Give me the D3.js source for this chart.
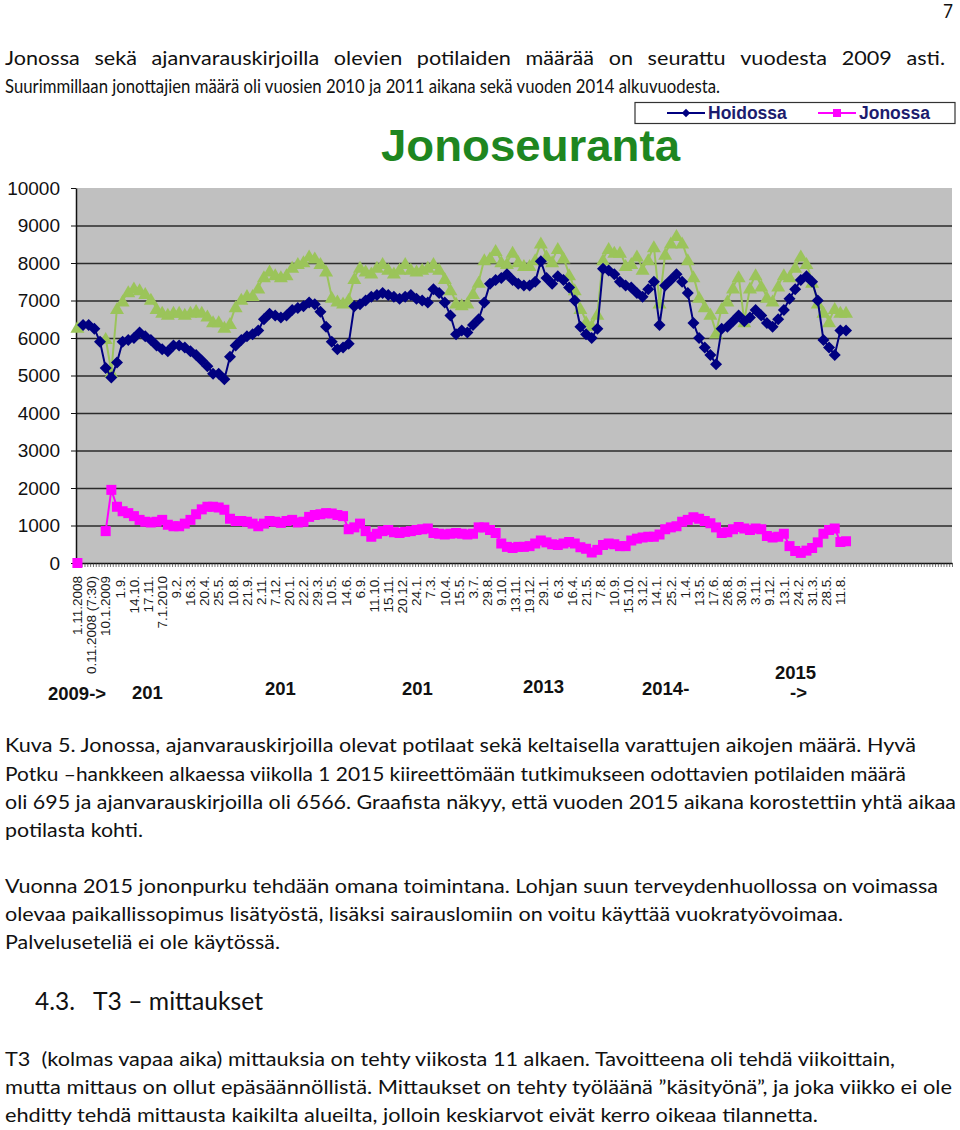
<!DOCTYPE html>
<html>
<head>
<meta charset="utf-8">
<script src="https://cdn.jsdelivr.net/npm/d3@7"></script>
<style>
  body { margin: 0; background: #fff; }
  svg { display: block; }
</style>
</head>
<body>
<svg id="page" width="960" height="1130"></svg>
<script>
// x tick labels, one for every fifth week on the category axis
const tickLabels = ['1.11.2008', '0.11.2008 (7:30)', '10.1.2009', '1.9.', '14.10.', '17.11.', '7.1.2010',
  '9.2.', '16.3.', '20.4.', '25.5.', '10.8.', '21.9.', '2.11.', '7.12.', '20.1.', '22.2.', '29.3.', '10.5.',
  '14.6.', '6.9.', '11.10.', '15.11.', '20.12.', '24.1.', '7.3.', '10.4.', '15.5.', '3.7.', '29.8.', '9.10.',
  '13.11.', '19.12.', '29.1.', '6.3.', '16.4.', '21.5.', '7.8.', '10.9.', '15.10.', '3.12.', '14.1.', '25.2.',
  '1.4.', '13.5.', '17.6.', '26.8.', '30.9.', '3.11.', '9.12.', '13.1.', '24.2.', '31.3.', '28.5.', '11.8.'];
const yTicks = [0, 1000, 2000, 3000, 4000, 5000, 6000, 7000, 8000, 9000, 10000];
const yearLabels = ['2009->', '201', '201', '201', '2013', '2014-', '2015', '->'];
const legendNames = ['Hoidossa', 'Jonossa'];
const chartTitle = 'Jonoseuranta';

// values read every second week (null = no value)
const hoidossa = [null, 6350, 6350, 6250, 5900, 5200, 4950, 5350, 5900, 5950,
  6000, 6150, 6050, 5950, 5800, 5700, 5650, 5800, 5800, 5750,
  5650, 5550, 5400, 5250, 5050, 5050, 4900, 5500, 5800, 5950,
  6050, 6100, 6200, 6500, 6650, 6600, 6550, 6600, 6750, 6800,
  6850, 6950, 6900, 6700, 6300, 5900, 5700, 5750, 5850, 6850,
  6900, 7000, 7100, 7150, 7200, 7150, 7100, 7050, 7100, 7150,
  7050, 7000, 6950, 7300, 7200, 6950, 6600, 6100, 6200, 6150,
  6350, 6500, 6950, 7450, 7550, 7600, 7700, 7550, 7450, 7400,
  7400, 7500, 8050, 7600, 7450, 7650, 7550, 7350, 7000, 6300,
  6100, 6000, 6250, 7850, 7800, 7700, 7500, 7400, 7350, 7200,
  7100, 7300, 7500, 6350, 7400, 7550, 7700, 7500, 7200, 6400,
  6000, 5750, 5550, 5300, 6250, 6300, 6450, 6600, 6450, 6550,
  6750, 6600, 6400, 6300, 6500, 6750, 7050, 7300, 7550, 7650,
  7500, 7000, 5950, 5750, 5550, 6200, 6200];

const varatut = [6300, null, null, null, null, 6000, 5100, 6800, 7000, 7250,
  7350, 7300, 7200, 7050, 6800, 6700, 6650, 6700, 6700, 6650,
  6700, 6750, 6700, 6600, 6450, 6450, 6300, 6400, 6850, 7050,
  7150, 7150, 7350, 7650, 7800, 7700, 7650, 7700, 7900, 8000,
  8050, 8200, 8150, 8000, 7800, 7100, 7000, 6950, 7050, 7600,
  7900, 7800, 7750, 7900, 8000, 7850, 7750, 7850, 8000, 7850,
  7800, 7850, 7900, 8000, 7850, 7600, 7300, 6950, 6900, 6950,
  7200, 7500, 8100, 8150, 8350, 8050, 8000, 8300, 8050, 7950,
  7950, 8100, 8550, 8200, 8050, 8400, 8150, 7700, 7300, 6800,
  6450, 6350, 6650, 8100, 8400, 8300, 8300, 7950, 8000, 8200,
  7850, 8100, 8450, 6950, 8250, 8550, 8750, 8550, 8100, 7650,
  7100, 6850, 6650, 6150, 6800, 7000, 7350, 7650, 6450, 7350,
  7700, 7400, 7100, 7000, 7400, 7700, 7650, 7900, 8200, 8000,
  7500, 6950, 6700, 6450, 6800, 6700, 6700];

const jonossa = [0, null, null, null, null, 850, 1950, 1500, 1380, 1330,
  1250, 1150, 1100, 1080, 1100, 1150, 1020, 980, 980, 1050,
  1150, 1300, 1430, 1500, 1500, 1480, 1420, 1180, 1120, 1120,
  1100, 1050, 980, 1050, 1120, 1100, 1070, 1120, 1150, 1080,
  1100, 1230, 1280, 1300, 1330, 1320, 1280, 1250, 900, 950,
  1050, 850, 700, 780, 850, 880, 820, 800, 830, 850,
  880, 900, 920, 800, 780, 760, 780, 800, 780, 760,
  780, 950, 950, 880, 800, 520, 430, 400, 430, 430,
  450, 520, 600, 550, 500, 480, 520, 560, 520, 420,
  380, 280, 350, 480, 520, 500, 450, 450, 600, 650,
  680, 700, 700, 760, 900, 950, 980, 1100, 1150, 1220,
  1180, 1120, 1060, 950, 800, 820, 900, 960, 920, 880,
  920, 900, 720, 680, 700, 780, 450, 320, 270, 330,
  400, 550, 780, 880, 920, 560, 580];

const CATEGORY_COUNT = 310;
const SAMPLE_STEP = 2;
const LABEL_STEP = 5;

const plot = {left: 76, right: 952, top: 188, bottom: 563};
const chartFont = 'Liberation Sans, Arial, sans-serif';
const bodyFont = 'Lato, Carlito, sans-serif';

const svg = d3.select('#page');

// ---------- page text ----------
const bodyLines = [
  {t: 'Jonossa sekä ajanvarauskirjoilla olevien potilaiden määrää on seurattu vuodesta 2009 asti.', x: 5, y: 65, w: 940, justify: true},
  {t: 'Suurimmillaan jonottajien määrä oli vuosien 2010 ja 2011 aikana sekä vuoden 2014 alkuvuodesta.', x: 5, y: 93, w: 715},
  {t: 'Kuva 5. Jonossa, ajanvarauskirjoilla olevat potilaat sekä keltaisella varattujen aikojen määrä. Hyvä', x: 5, y: 752, w: 911},
  {t: 'Potku –hankkeen alkaessa viikolla 1 2015 kiireettömään tutkimukseen odottavien potilaiden määrä', x: 5, y: 781, w: 901},
  {t: 'oli 695 ja ajanvarauskirjoilla oli 6566. Graafista näkyy, että vuoden 2015 aikana korostettiin yhtä aikaa', x: 5, y: 809, w: 951},
  {t: 'potilasta kohti.', x: 5, y: 837, w: 138},
  {t: 'Vuonna 2015 jononpurku tehdään omana toimintana. Lohjan suun terveydenhuollossa on voimassa', x: 5, y: 893, w: 933},
  {t: 'olevaa paikallissopimus lisätyöstä, lisäksi sairauslomiin on voitu käyttää vuokratyövoimaa.', x: 5, y: 921, w: 838},
  {t: 'Palveluseteliä ei ole käytössä.', x: 5, y: 949, w: 275},
  {t: 'T3  (kolmas vapaa aika) mittauksia on tehty viikosta 11 alkaen. Tavoitteena oli tehdä viikoittain,', x: 5, y: 1066, w: 890},
  {t: 'mutta mittaus on ollut epäsäännöllistä. Mittaukset on tehty työläänä ”käsityönä”, ja joka viikko ei ole', x: 5, y: 1094, w: 947},
  {t: 'ehditty tehdä mittausta kaikilta alueilta, jolloin keskiarvot eivät kerro oikeaa tilannetta.', x: 5, y: 1122, w: 813},
  {t: '4.3.', x: 35, y: 1010, w: 40, size: 25},
  {t: 'T3 – mittaukset', x: 93, y: 1010, w: 170, size: 25},
  {t: '7', x: 943, y: 18, w: 10, size: 19}
];

const textGroup = svg.append('g').attr('class', 'body-text');
const styleBody = sel => sel
  .attr('font-family', bodyFont)
  .attr('font-size', d => d.size || 19.5)
  .attr('fill', '#111')
  .style('white-space', 'pre');

const plainText = textGroup.selectAll('text.plain')
  .data(bodyLines.filter(d => !d.justify))
  .join('text').attr('class', 'plain')
  .attr('x', d => d.x)
  .attr('y', d => d.y)
  .call(styleBody)
  .text(d => d.t);

// natural widths first, then squeeze each line to its width on the page
plainText.each(function(d) { d.natural = this.getComputedTextLength(); });
const squeeze = bodyLines[2].w / bodyLines[2].natural;
plainText
  .attr('textLength', d => d.w)
  .attr('lengthAdjust', 'spacingAndGlyphs');

// justified lines: words spread evenly over the full width
bodyLines.filter(d => d.justify).forEach(line => {
  const words = line.t.split(' ').map(w => ({t: w, size: line.size}));
  const wt = textGroup.append('g').selectAll('text')
    .data(words)
    .join('text')
    .attr('y', line.y)
    .call(styleBody)
    .text(d => d.t);
  wt.each(function(d) { d.width = this.getComputedTextLength() * squeeze; });
  const gap = (line.w - d3.sum(words, d => d.width)) / (words.length - 1);
  let cursor = line.x;
  words.forEach(d => { d.x = cursor; cursor += d.width + gap; });
  wt.attr('x', d => d.x)
    .attr('textLength', d => d.width)
    .attr('lengthAdjust', 'spacingAndGlyphs');
});

// ---------- chart ----------
const x = d3.scaleLinear().domain([0, CATEGORY_COUNT]).range([plot.left, plot.right]);
const y = d3.scaleLinear().domain([0, 10000]).range([plot.bottom, plot.top]);
const cx = i => x(i + 0.5);

const chart = svg.append('g').attr('class', 'chart');

chart.append('rect')
  .attr('x', plot.left)
  .attr('y', plot.top)
  .attr('width', plot.right - plot.left)
  .attr('height', plot.bottom - plot.top)
  .attr('fill', '#c0c0c0');

// gridlines
const grid = chart.append('g')
  .attr('transform', `translate(${plot.left},0)`)
  .call(d3.axisLeft(y).tickValues(yTicks.filter(v => v > 0 && v < 10000))
    .tickSize(-(plot.right - plot.left)).tickFormat(''));
grid.select('.domain').remove();
grid.selectAll('line').attr('stroke', '#2b2b2b').attr('stroke-width', 1.6);

// y axis
const yAxis = chart.append('g')
  .attr('transform', `translate(${plot.left},0)`)
  .call(d3.axisLeft(y).tickValues(yTicks).tickFormat(d3.format('d'))
    .tickSize(5).tickSizeOuter(0).tickPadding(11));
yAxis.attr('font-family', chartFont).attr('font-size', 19);
yAxis.select('.domain').attr('stroke', '#111').attr('stroke-width', 1.5);
yAxis.selectAll('line').attr('stroke', '#111');
yAxis.selectAll('text').attr('fill', '#111');

// x axis: one tick per category boundary
const xAxis = chart.append('g')
  .attr('transform', `translate(0,${plot.bottom})`)
  .call(d3.axisBottom(x).tickValues(d3.range(0, CATEGORY_COUNT + 1))
    .tickSize(4).tickSizeOuter(0).tickFormat(''));
xAxis.select('.domain').attr('stroke', '#111').attr('stroke-width', 1.5);
xAxis.selectAll('.tick line').attr('stroke', '#333').attr('stroke-width', 0.7);

chart.append('g').attr('class', 'x-labels')
  .selectAll('text')
  .data(tickLabels)
  .join('text')
  .attr('transform', (d, k) => `translate(${cx(k * LABEL_STEP)},576) rotate(-90)`)
  .attr('text-anchor', 'end')
  .attr('dy', '0.35em')
  .attr('font-family', chartFont)
  .attr('font-size', 13.5)
  .attr('fill', '#1a1a1a')
  .text(d => d);

// series
const toPoints = values => values.map((v, k) => ({i: k * SAMPLE_STEP, v}));
const valueLine = d3.line()
  .defined(d => d.v !== null)
  .x(d => cx(d.i))
  .y(d => y(d.v));

const markers = {
  triangle: 'M0,-6L7,6L-7,6Z',
  diamond: 'M0,-6L6,0L0,6L-6,0Z',
  square: 'M-5,-5H5V5H-5Z'
};

const series = [
  {name: 'Varatut', values: varatut, color: '#9bc45a', marker: markers.triangle},
  {name: 'Hoidossa', values: hoidossa, color: '#000080', marker: markers.diamond},
  {name: 'Jonossa', values: jonossa, color: '#ff00ff', marker: markers.square}
];

series.forEach(s => {
  const pts = toPoints(s.values);
  const g = chart.append('g').attr('class', 'series');
  g.append('path')
    .datum(pts)
    .attr('d', valueLine)
    .attr('fill', 'none')
    .attr('stroke', s.color)
    .attr('stroke-width', 2);
  g.selectAll('path.marker')
    .data(pts.filter(d => d.v !== null))
    .join('path').attr('class', 'marker')
    .attr('transform', d => `translate(${cx(d.i)},${y(d.v)})`)
    .attr('d', s.marker)
    .attr('fill', s.color);
});

// title
svg.append('text')
  .attr('x', 381)
  .attr('y', 161)
  .attr('font-family', chartFont)
  .attr('font-weight', 'bold')
  .attr('font-size', 44)
  .attr('fill', '#1e8620')
  .attr('textLength', 299)
  .attr('lengthAdjust', 'spacingAndGlyphs')
  .text(chartTitle);

// legend
const legend = svg.append('g').attr('class', 'legend');
legend.append('rect')
  .attr('x', 635).attr('y', 102.5)
  .attr('width', 320).attr('height', 21)
  .attr('fill', '#fff')
  .attr('stroke', '#333')
  .attr('stroke-width', 1.2);

const legendItems = [
  {name: legendNames[0], color: '#000080', marker: 'M0,-4.2L4.2,0L0,4.2L-4.2,0Z', x1: 667, x2: 705, tx: 708},
  {name: legendNames[1], color: '#ff00ff', marker: 'M-4,-4H4V4H-4Z', x1: 818, x2: 856, tx: 859}
];
const li = legend.selectAll('g.item').data(legendItems).join('g').attr('class', 'item');
li.append('line')
  .attr('x1', d => d.x1).attr('x2', d => d.x2)
  .attr('y1', 113).attr('y2', 113)
  .attr('stroke', d => d.color).attr('stroke-width', 2);
li.append('path')
  .attr('transform', d => `translate(${(d.x1 + d.x2) / 2},113)`)
  .attr('d', d => d.marker)
  .attr('fill', d => d.color);
li.append('text')
  .attr('x', d => d.tx).attr('y', 119)
  .attr('font-family', chartFont)
  .attr('font-weight', 'bold')
  .attr('font-size', 17.5)
  .attr('fill', '#1c1c6e')
  .text(d => d.name);

// year labels under the axis
const yearPos = [[48, 700], [132, 699], [265, 695], [402, 695], [523, 693], [642, 695], [775, 679], [790, 699]];
svg.append('g').attr('class', 'years')
  .selectAll('text')
  .data(yearLabels)
  .join('text')
  .attr('x', (d, k) => yearPos[k][0])
  .attr('y', (d, k) => yearPos[k][1])
  .attr('font-family', chartFont)
  .attr('font-weight', 'bold')
  .attr('font-size', 18.5)
  .attr('fill', '#111')
  .text(d => d);
</script>
</body>
</html>
